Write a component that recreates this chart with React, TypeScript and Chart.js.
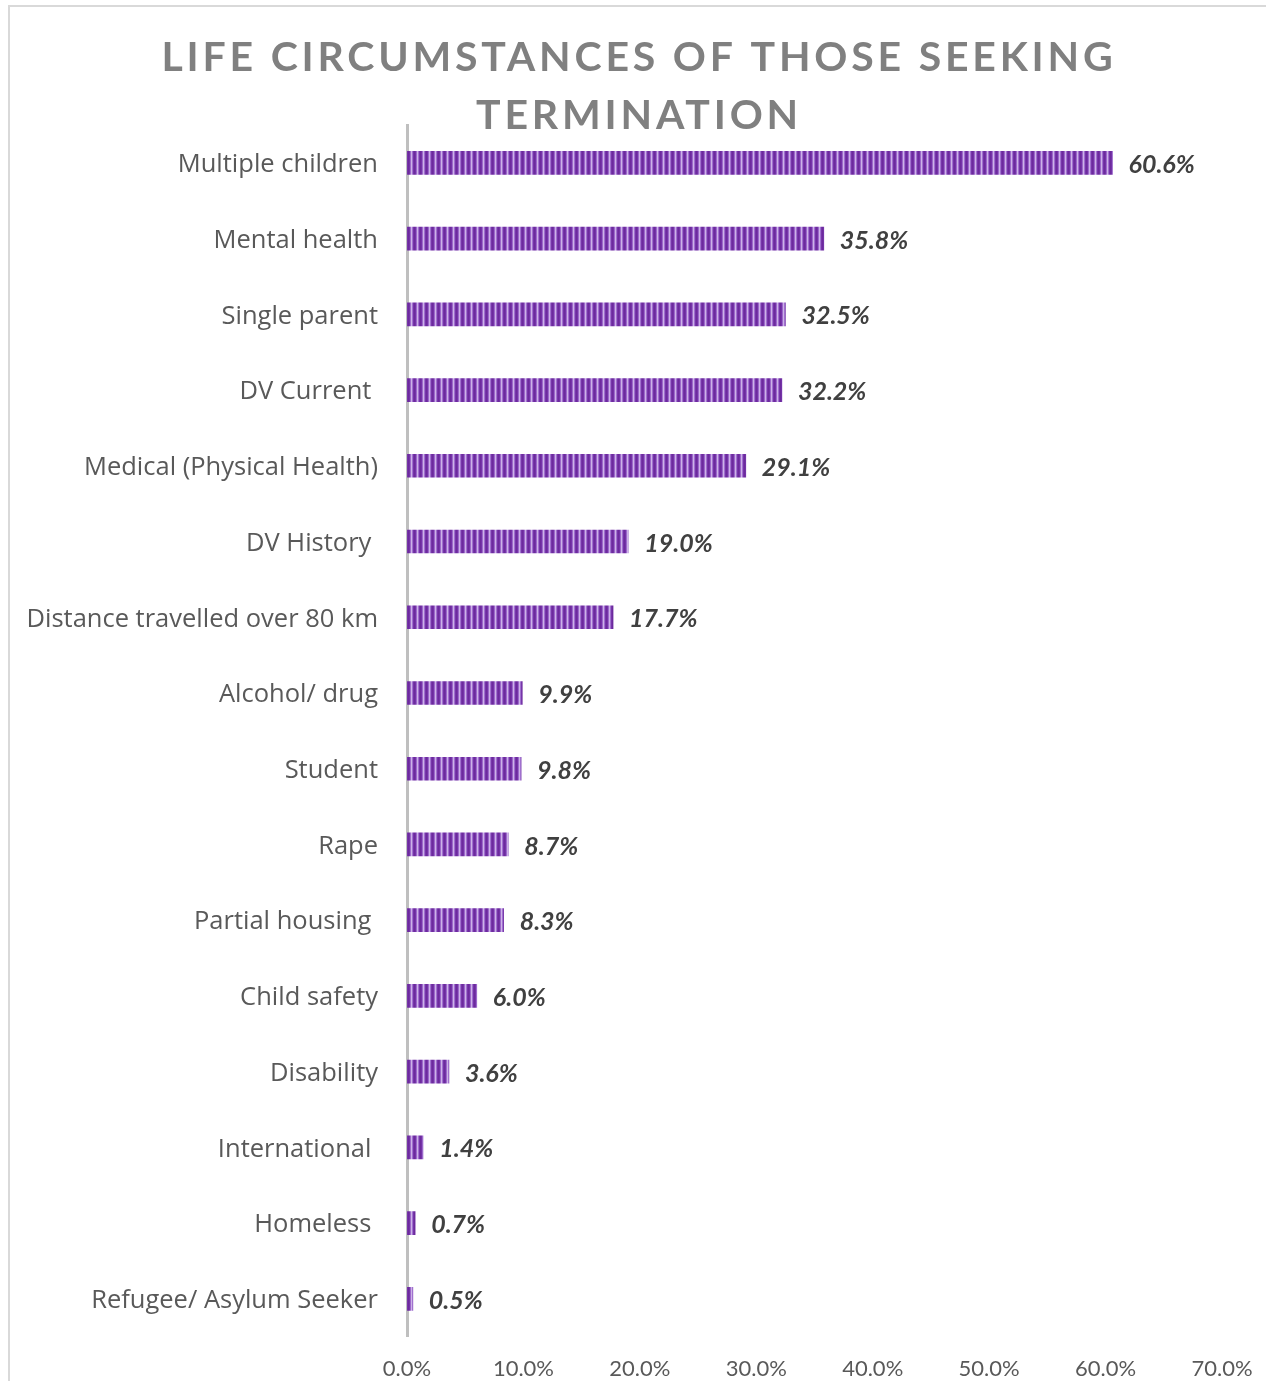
import React, { useEffect, useRef } from "react";
import { Chart, registerables } from "chart.js";

Chart.register(...registerables);

const titleLines = ["LIFE CIRCUMSTANCES OF THOSE SEEKING", "TERMINATION"];

const categories = [
  "Multiple children",
  "Mental health",
  "Single parent",
  "DV Current ",
  "Medical (Physical Health)",
  "DV History ",
  "Distance travelled over 80 km",
  "Alcohol/ drug",
  "Student",
  "Rape",
  "Partial housing ",
  "Child safety",
  "Disability",
  "International ",
  "Homeless ",
  "Refugee/ Asylum Seeker",
];

const values = [60.6, 35.8, 32.5, 32.2, 29.1, 19.0, 17.7, 9.9, 9.8, 8.7, 8.3, 6.0, 3.6, 1.4, 0.7, 0.5];

const xMin = 0;
const xMax = 70;
const xStep = 10;

const W = 1266;
const H = 1381;

function makePattern(ctx: CanvasRenderingContext2D): CanvasPattern | string {
  const c = document.createElement("canvas");
  c.width = 6;
  c.height = 4;
  const p = c.getContext("2d");
  if (!p) return "#7030A0";
  const cols = ["#6C2A9C", "#7433A8", "#9C68CA", "#CDB2E8", "#A070CE", "#7635AA"];
  cols.forEach((col, i) => {
    p.fillStyle = col;
    p.fillRect(i, 0, 1, 4);
  });
  return ctx.createPattern(c, "repeat") || "#7030A0";
}

const framePlugin = {
  id: "frame",
  beforeDraw(chart: any) {
    const ctx = chart.ctx;
    ctx.save();
    ctx.fillStyle = "#ffffff";
    ctx.fillRect(0, 0, chart.width, chart.height);
    ctx.strokeStyle = "#D9D9D9";
    ctx.lineWidth = 2;
    ctx.beginPath();
    ctx.moveTo(9, chart.height);
    ctx.lineTo(9, 6);
    ctx.lineTo(chart.width, 6);
    ctx.stroke();
    ctx.restore();
  },
};

const titlePlugin = {
  id: "customTitle",
  afterDraw(chart: any) {
    const ctx = chart.ctx as any;
    ctx.save();
    ctx.fillStyle = "#808080";
    ctx.font = "bold 41px Lato";
    ctx.textAlign = "center";
    ctx.textBaseline = "alphabetic";
    ctx.letterSpacing = "3.8px";
    const cx = 639;
    ctx.fillText(titleLines[0], cx, 71);
    ctx.fillText(titleLines[1], cx, 129);
    ctx.restore();
  },
};

const valueLabelPlugin = {
  id: "valueLabels",
  afterDatasetsDraw(chart: any) {
    const ctx = chart.ctx;
    const meta = chart.getDatasetMeta(0);
    ctx.save();
    ctx.fillStyle = "#404040";
    ctx.font = "italic bold 25px Lato";
    ctx.textAlign = "left";
    ctx.textBaseline = "middle";
    meta.data.forEach((bar: any, i: number) => {
      const v = values[i];
      ctx.fillText(v.toFixed(1) + "%", bar.x + 16, bar.y + 2);
    });
    ctx.restore();
  },
};

export default function App() {
  const ref = useRef<HTMLCanvasElement | null>(null);

  useEffect(() => {
    const canvas = ref.current;
    if (!canvas) return;
    const ctx = canvas.getContext("2d");
    if (!ctx) return;
    const pattern = makePattern(ctx);

    const chart = new Chart(ctx, {
      type: "bar",
      data: {
        labels: categories,
        datasets: [
          {
            data: values,
            backgroundColor: pattern as any,
            borderWidth: 0,
            barThickness: 23,
          },
        ],
      },
      options: {
        indexAxis: "y",
        animation: false,
        responsive: false,
        maintainAspectRatio: false,
        layout: { padding: { top: 125, right: 44, bottom: 0, left: 0 } },
        plugins: {
          legend: { display: false },
          title: { display: false },
          tooltip: { enabled: false },
        },
        scales: {
          x: {
            min: xMin,
            max: xMax,
            grid: { display: false, drawTicks: false },
            border: { display: false },
            ticks: {
              stepSize: xStep,
              padding: 19,
              color: "#595959",
              font: { family: "Lato", size: 22 },
              callback: (v: any) => Number(v).toFixed(1) + "%",
            },
            afterFit: (scale: any) => {
              scale.height = 41;
              scale.paddingLeft = 0;
              scale.paddingRight = 0;
            },
          },
          y: {
            grid: { display: false, drawTicks: false },
            border: { display: true, color: "#BFBFBF", width: 3 },
            ticks: {
              autoSkip: false,
              padding: 29,
              labelOffset: 2,
              color: "#595959",
              font: { family: "Open Sans", size: 25.5 },
            },
            afterFit: (scale: any) => {
              scale.width = 407;
            },
          },
        },
      },
      plugins: [framePlugin, titlePlugin, valueLabelPlugin],
    });

    return () => chart.destroy();
  }, []);

  return (
    <div style={{ position: "absolute", left: 0, top: 0, width: W, height: H, background: "#fff" }}>
      <canvas ref={ref} width={W} height={H} style={{ display: "block", width: W, height: H }} />
    </div>
  );
}
